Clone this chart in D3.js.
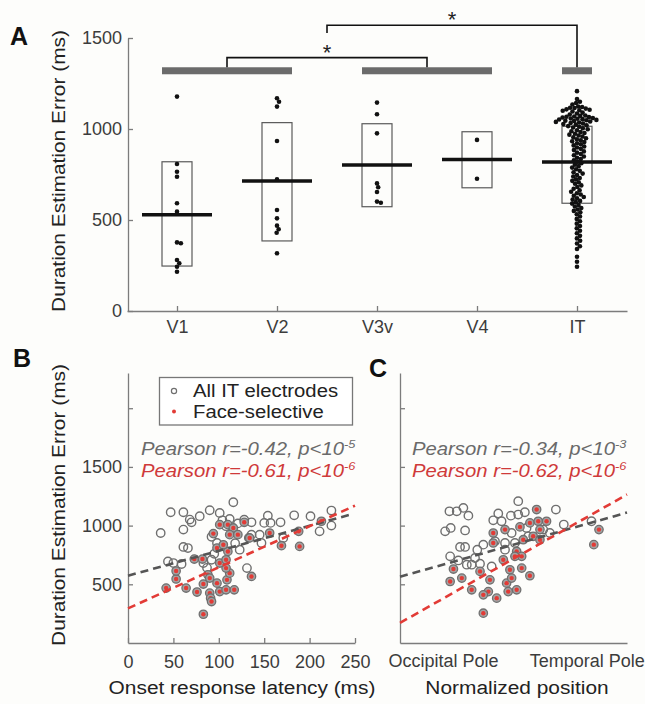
<!DOCTYPE html>
<html>
<head>
<meta charset="utf-8">
<script src="https://cdn.jsdelivr.net/npm/d3@7"></script>
<style>
  body { margin: 0; background: #fdfdfb; }
  svg { display: block; font-family: 'Liberation Sans', Arial, sans-serif; }
</style>
</head>
<body>
<div id="chart"></div>
<script>
// panel A: duration estimation error by region
const regions = ['V1', 'V2', 'V3v', 'V4', 'IT']
const v1Err = [1178, 808, 765, 738, 592, 546, 377, 372, 280, 262, 243, 216]
const v2Err = [1169, 1150, 1123, 934, 723, 555, 509, 469, 449, 430, 317]
const v3vErr = [1145, 1081, 976, 701, 680, 654, 601, 595]
const v4Err = [940, 727]
const itErr = [1208, 1165, 1150, 1143, 1135,
  1124, 1121, 1117, 1115, 1112, 1108, 1106, 1103, 1100, 1096,
  1090, 1085, 1080,
  1074, 1072, 1069, 1067, 1065, 1063, 1060, 1058, 1056, 1054, 1052, 1050, 1048, 1046,
  1044, 1041, 1039, 1036, 1033, 1030, 1027, 1024, 1020, 1016, 1012, 1008, 1004, 999,
  993, 988, 983, 978, 974, 969, 964, 959, 954, 949, 944,
  938, 933, 928, 922, 916, 910, 904, 898, 891, 884, 877, 870, 863, 856, 849, 842, 835,
  828, 820, 812, 804, 796, 788, 779, 770, 762,
  755, 747, 739, 731, 723, 715, 707, 699, 690, 681, 672, 663, 655,
  647, 640, 633, 626, 619, 612, 605, 598, 590, 582, 574, 566, 558, 550, 542,
  532, 519, 506, 493, 480, 467, 454, 441, 427, 413, 399,
  386, 371, 356, 341, 298, 271, 243]
const boxLow = [247, 385, 573, 677, 592]
const boxHigh = [820, 1035, 1029, 985, 1015]
const boxMean = [529, 714, 802, 833, 818]
const sigGroups = [['V1', 'V2'], ['V3v', 'V4'], ['IT']]
const yTicksA = [0, 500, 1000, 1500]

// panel B: onset latency (ms) vs error (ms)
const latOther = [[116,1199],[47,1114],[61,1114],[90,1131],[101,1108],[68,1051],[70,1028],[79,1080],
  [61,966],[36,937],[112,1057],[61,818],[66,809],[50,681],[59,673],[83,681],[92,709],[98,852],
  [131,638],[123,795],[136,923],[154,1085],[150,1023],[157,1023],[168,1028],[183,1088],[201,1080],
  [224,1128],[224,1000],[211,951],[145,923],[171,895],[147,852],[136,1028],[92,905],[121,1019],
  [108,995],[104,1045],[128,1050],[95,760],[87,640],[44,695],[118,850]]
const latFace = [[83,245],[42,468],[53,545],[53,613],[64,468],[76,434],[83,502],[73,715],[82,715],
  [90,425],[91,382],[92,353],[88,581],[90,553],[98,510],[101,438],[108,453],[117,453],[109,538],
  [112,595],[108,638],[101,681],[108,709],[110,780],[98,809],[105,837],[101,1008],[110,1008],
  [116,980],[112,923],[121,923],[128,1028],[133,895],[94,932],[156,937],[188,951],[169,829],
  [189,823],[213,1037],[136,567],[134,895]]
const fitLatAll = [[0, 573], [245, 1094]]
const fitLatFace = [[0, 295], [250, 1170]]
const xTicksB = [0, 50, 100, 150, 200, 250]
const yTicksB = [500, 1000, 1500, 2000]

// panel C: normalized position (0 occipital, 1 temporal) vs error
const posOther = [[0.044,1122],[0.095,1122],[0.141,1151],[0.176,1085],[0.014,951],[0.053,980],
  [0.153,959],[0.523,1208],[0.384,1103],[0.349,1045],[0.407,1037],[0.472,1085],[0.523,1094],
  [0.569,1114],[0.785,1137],[0.840,1009],[1.033,1037],[0.118,818],[0.153,818],[0.049,738],
  [0.106,703],[0.165,667],[0.222,724],[0.238,795],[0.280,838],[0.361,866],[0.431,852],[0.477,937],
  [0.5,852],[0.338,652],[0.431,795],[0.581,980],[0.697,966],[0.743,937],[0.593,909],[0.257,675],[0.199,667]]
const posFace = [[0.651,1137],[0.349,937],[0.431,966],[0.535,989],[0.604,1023],[0.662,1037],
  [0.720,1037],[0.674,966],[0.627,909],[0.558,880],[0.674,880],[0.349,852],[0.419,709],[0.512,780],
  [0.547,738],[0.5,738],[0.547,638],[0.465,624],[0.326,538],[0.315,438],[0.280,410],[0.373,382],
  [0.280,254],[0.442,510],[0.477,553],[0.453,438],[0.512,453],[0.257,610],[0.072,630],[0.049,524],
  [0.130,553],[0.199,453],[0.604,573],[1.085,966],[1.049,838]]
const fitPosAll = [[-0.3, 564], [1.28, 1111]]
const fitPosFace = [[-0.3, 171], [1.28, 1265]]
const posLabels = { 0: 'Occipital Pole', 1: 'Temporal Pole' }

const statsB = [['Pearson r=-0.42, p<10', '-5'], ['Pearson r=-0.61, p<10', '-6']]
const statsC = [['Pearson r=-0.34, p<10', '-3'], ['Pearson r=-0.62, p<10', '-6']]

const grey = '#6f6f6f', red = '#e23b36', axisCol = '#7c7c7c'

const svg = d3.select('#chart').append('svg')
  .attr('width', 645).attr('height', 704)

// text with a slight horizontal stretch like the source figure
function txt(x, y, s, o = {}) {
  return svg.append('text')
    .attr('transform', `translate(${x},${y})${o.rot ? ` rotate(${o.rot})` : ''} scale(${o.sx || 1},1)`)
    .attr('text-anchor', o.anchor || 'start')
    .attr('font-size', o.size || 18)
    .attr('font-weight', o.weight || 'normal')
    .attr('font-style', o.italic ? 'italic' : 'normal')
    .attr('fill', o.fill || '#222')
    .text(s)
}

function styleAxis(g) {
  g.selectAll('path, line').attr('stroke', axisCol).attr('stroke-width', 1.3)
  g.selectAll('text').attr('font-size', 18).attr('fill', '#3c3c3c')
    .attr('font-family', "'Liberation Sans', Arial, sans-serif")
}

// greedy beeswarm so dots with close values sit side by side
function swarm(values, y, d) {
  const pts = values.map(v => ({ v, y: y(v), x: 0 })).sort((a, b) => a.y - b.y)
  const placed = []
  pts.forEach(p => {
    const near = placed.filter(q => Math.abs(q.y - p.y) < d)
    const cands = [0]
    near.forEach(q => {
      const dx = Math.sqrt(d * d - (q.y - p.y) ** 2)
      cands.push(q.x + dx, q.x - dx)
    })
    cands.sort((a, b) => Math.abs(a) - Math.abs(b))
    p.x = cands.find(c => near.every(q => (q.x - c) ** 2 + (q.y - p.y) ** 2 >= d * d - 0.01))
    placed.push(p)
  })
  return pts
}

// ---------- panel A ----------
const xA = d3.scalePoint().domain(regions).range([127, 627]).padding(0.5)
const yA = d3.scaleLinear().domain([0, 1500]).range([311, 38])

svg.append('g').attr('transform', 'translate(128,0)')
  .call(d3.axisLeft(yA).tickValues(yTicksA).tickFormat(d3.format('d'))
    .tickSizeInner(-5).tickSizeOuter(0).tickPadding(6))
  .call(styleAxis)
svg.append('g').attr('transform', 'translate(0,311)')
  .call(d3.axisBottom(xA).tickSizeInner(-5).tickSizeOuter(0).tickPadding(9))
  .call(styleAxis)

const groups = [v1Err, v2Err, v3vErr, v4Err, itErr]
regions.forEach((r, i) => {
  const cx = xA(r)
  svg.append('rect')
    .attr('x', cx - 15).attr('width', 30)
    .attr('y', yA(boxHigh[i])).attr('height', yA(boxLow[i]) - yA(boxHigh[i]))
    .attr('fill', 'none').attr('stroke', '#5a5a5a').attr('stroke-width', 1.2)
  svg.selectAll(null)
    .data(swarm(groups[i], yA, 4.0))
    .join('circle')
    .attr('cx', d => cx + d.x)
    .attr('cy', d => d.y)
    .attr('r', 2.3)
    .attr('fill', '#111')
  svg.append('line')
    .attr('x1', cx - 35).attr('x2', cx + 35)
    .attr('y1', yA(boxMean[i])).attr('y2', yA(boxMean[i]))
    .attr('stroke', '#111').attr('stroke-width', 3.5)
})

// significance bars and brackets
const barMid = sigGroups.map(g => (xA(g[0]) + xA(g[g.length - 1])) / 2)
sigGroups.forEach(g => {
  svg.append('rect')
    .attr('x', xA(g[0]) - 15).attr('width', xA(g[g.length - 1]) - xA(g[0]) + 30)
    .attr('y', yA(1320) - 3.5).attr('height', 7)
    .attr('fill', '#6b6b6b')
})
const barTop = yA(1320) - 3.5
const mid12 = (barMid[0] + barMid[1]) / 2
svg.append('path')
  .attr('d', `M${barMid[0]},${barTop}V${yA(1392)}H${barMid[1]}V${barTop}`)
  .attr('fill', 'none').attr('stroke', '#111').attr('stroke-width', 1.6)
svg.append('path')
  .attr('d', `M${mid12},${yA(1527)}V${yA(1570)}H${barMid[2]}V${barTop}`)
  .attr('fill', 'none').attr('stroke', '#111').attr('stroke-width', 1.6)
txt(mid12, yA(1392) + 2, '*', { anchor: 'middle', size: 22 })
txt((mid12 + barMid[2]) / 2, yA(1570) + 2, '*', { anchor: 'middle', size: 22 })

txt(10, 45, 'A', { size: 25, weight: 'bold', fill: '#111' })
txt(64.5, 171, 'Duration Estimation Error (ms)', { rot: -90, anchor: 'middle', sx: 1.16 })

// ---------- panels B and C ----------
const yB = d3.scaleLinear().domain([0, 2300]).range([643, 373])
const xB = d3.scaleLinear().domain([0, 250]).range([128, 355])
const xC = d3.scaleLinear().domain([-0.3, 1.28]).range([400, 627])

svg.append('g').attr('transform', 'translate(128,0)')
  .call(d3.axisLeft(yB).tickValues(yTicksB).tickFormat(d => d === 2000 ? '' : d)
    .tickSizeInner(-5).tickSizeOuter(0).tickPadding(6))
  .call(styleAxis)
svg.append('g').attr('transform', 'translate(0,643)')
  .call(d3.axisBottom(xB).tickValues(xTicksB).tickSizeInner(-5).tickSizeOuter(0).tickPadding(12))
  .call(styleAxis)
svg.append('g').attr('transform', 'translate(400,0)')
  .call(d3.axisLeft(yB).tickValues(yTicksB).tickFormat(() => '')
    .tickSizeInner(-5).tickSizeOuter(0))
  .call(styleAxis)
svg.append('g').attr('transform', 'translate(0,643)')
  .call(d3.axisBottom(xC).tickValues([0, 1]).tickFormat(d => posLabels[d])
    .tickSize(0).tickPadding(11))
  .call(styleAxis)

function scatter(xs, other, face, fits) {
  const line = d3.line().x(d => xs(d[0])).y(d => yB(d[1]))
  svg.selectAll(null).data(other).join('circle')
    .attr('cx', d => xs(d[0])).attr('cy', d => yB(d[1])).attr('r', 4.2)
    .attr('fill', 'none').attr('stroke', grey).attr('stroke-width', 1.4)
  const f = svg.selectAll(null).data(face).join('g')
    .attr('transform', d => `translate(${xs(d[0])},${yB(d[1])})`)
  f.append('circle').attr('r', 4.2).attr('fill', '#a3a3a3')
    .attr('stroke', grey).attr('stroke-width', 1.3)
  f.append('circle').attr('r', 2.2).attr('fill', red)
  svg.append('path').attr('d', line(fits[0]))
    .attr('stroke', '#555').attr('stroke-width', 2.6).attr('stroke-dasharray', '8,5').attr('fill', 'none')
  svg.append('path').attr('d', line(fits[1]))
    .attr('stroke', red).attr('stroke-width', 2.6).attr('stroke-dasharray', '8,5').attr('fill', 'none')
}
scatter(xB, latOther, latFace, [fitLatAll, fitLatFace])
scatter(xC, posOther, posFace, [fitPosAll, fitPosFace])

function stats(x, lines) {
  lines.forEach((l, i) => {
    const t = txt(x, 455 + i * 22, l[0], { italic: true, size: 17.5, sx: 1.16, fill: i ? '#cf3a3a' : '#6a6a6a' })
    t.append('tspan').attr('font-size', 11).attr('dy', -7).text(l[1])
  })
}
stats(141, statsB)
stats(412, statsC)

// legend
svg.append('rect').attr('x', 159.5).attr('y', 377.5).attr('width', 193).attr('height', 47.5)
  .attr('fill', '#fff').attr('stroke', '#777').attr('stroke-width', 1.3)
svg.append('circle').attr('cx', 174).attr('cy', 391).attr('r', 2.6)
  .attr('fill', 'none').attr('stroke', grey).attr('stroke-width', 1.2)
svg.append('circle').attr('cx', 174).attr('cy', 411.5).attr('r', 2).attr('fill', red)
txt(193, 397, 'All IT electrodes', { size: 17.5, sx: 1.16 })
txt(193, 418, 'Face-selective', { size: 17.5, sx: 1.16 })

txt(13, 367, 'B', { size: 25, weight: 'bold', fill: '#111' })
txt(369, 377, 'C', { size: 25, weight: 'bold', fill: '#111' })
txt(64.5, 505, 'Duration Estimation Error (ms)', { rot: -90, anchor: 'middle', sx: 1.16 })
txt(242, 694, 'Onset response latency (ms)', { anchor: 'middle', sx: 1.16 })
txt(517, 694, 'Normalized position', { anchor: 'middle', sx: 1.16 })
</script>
</body>
</html>
